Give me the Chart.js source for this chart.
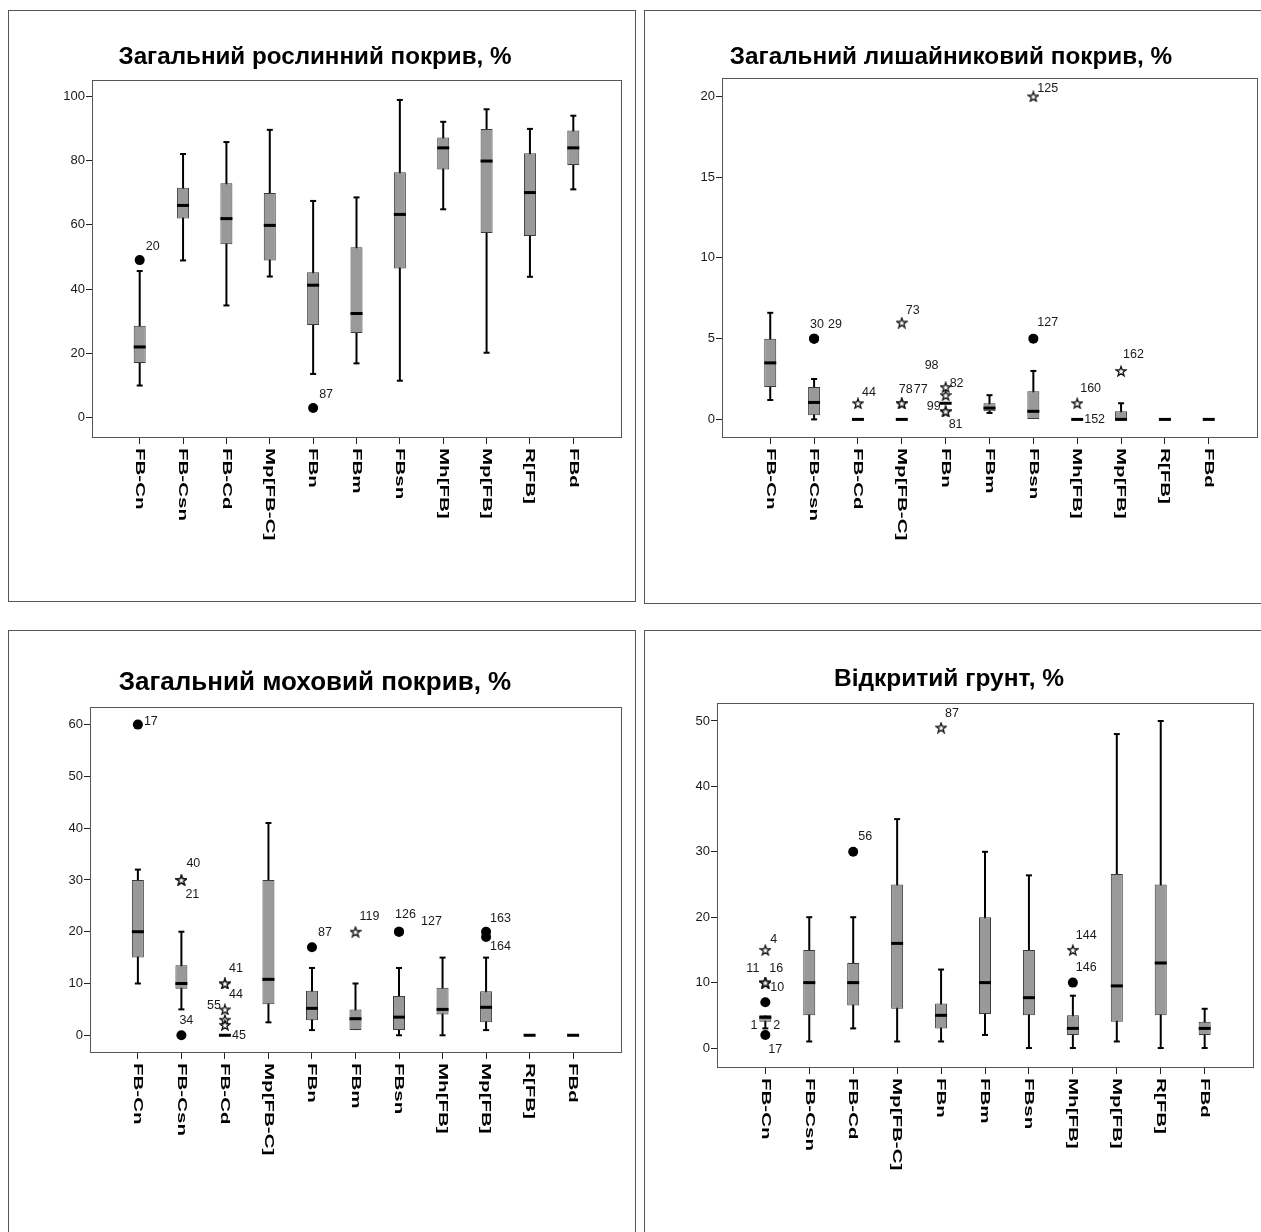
<!DOCTYPE html>
<html lang="uk">
<head>
<meta charset="UTF-8">
<title>Покриви та відкритий грунт</title>
<script src="https://cdn.jsdelivr.net/npm/chart.js"></script>
<style>
  html, body { margin: 0; padding: 0; background: #fff; }
  body { position: relative; width: 1261px; height: 1232px; overflow: hidden; }
  .panel { position: absolute; box-sizing: border-box; border: 1px solid #555; background: #fff; }
  .panel canvas { position: absolute; left: 0; top: 0; }
</style>
</head>
<body>
<div class="panel" id="p0"><canvas id="c0"></canvas></div>
<div class="panel" id="p1"><canvas id="c1"></canvas></div>
<div class="panel" id="p2"><canvas id="c2"></canvas></div>
<div class="panel" id="p3"><canvas id="c3"></canvas></div>
<script>
const categories = ['FB-Cn', 'FB-Csn', 'FB-Cd', 'Mp[FB-C]', 'FBn', 'FBm', 'FBsn', 'Mh[FB]', 'Mp[FB]', 'R[FB]', 'FBd'];

// --- Загальний рослинний покрив
const vegTitle  = 'Загальний рослинний покрив, %';
const vegTicks  = [0, 20, 40, 60, 80, 100];
const vegLow    = [10.0, 48.9, 34.9, 43.9, 13.6, 16.9, 11.5, 64.8, 20.2, 43.8, 71.0];
const vegQ1     = [17.0, 61.9, 53.9, 48.9, 28.8, 26.3, 46.4, 77.2, 57.4, 56.5, 78.6];
const vegMedian = [22.0, 66.0, 61.9, 59.8, 41.2, 32.4, 63.2, 83.9, 79.8, 70.0, 83.9];
const vegQ3     = [28.6, 71.5, 72.9, 69.9, 45.2, 53.0, 76.3, 87.1, 89.8, 82.2, 89.3];
const vegHigh   = [45.6, 82.0, 85.7, 89.5, 67.4, 68.5, 98.8, 92.0, 95.9, 89.8, 93.9];
const vegOutCat  = [0, 4];
const vegOutVal  = [49, 3];
const vegOutKind = ['o', 'o'];
const vegOutId   = ['20', '87'];

// --- Загальний лишайниковий покрив
const lichenTitle  = 'Загальний лишайниковий покрив, %';
const lichenTicks  = [0, 5, 10, 15, 20];
const lichenLow    = [1.2, 0, 0, 0, 1, 0.4, 0, 0, 0, 0, 0];
const lichenQ1     = [2.0, 0.25, 0, 0, 1, 0.5, 0, 0, 0, 0, 0];
const lichenMedian = [3.5, 1.05, 0, 0, 1, 0.7, 0.5, 0, 0, 0, 0];
const lichenQ3     = [5.0, 2.0, 0, 0, 1, 1.0, 1.75, 0, 0.5, 0, 0];
const lichenHigh   = [6.6, 2.5, 0, 0, 1, 1.5, 3.0, 0, 1.0, 0, 0];
const lichenOutCat  = [1, 1, 2, 3, 3, 3, 4, 4, 4, 4, 6, 6, 7, 7, 8];
const lichenOutVal  = [5, 5, 1, 6, 1, 1, 2, 1.5, 0.5, 0.5, 20, 5, 1, 0, 3];
const lichenOutKind = ['o', 'o', '*', '*', '*', '*', '*', '*', '*', '*', '*', 'o', '*', '-', '*'];
const lichenOutId   = ['30', '29', '44', '73', '78', '77', '82', '98', '99', '81', '125', '127', '160', '152', '162'];

// --- Загальний моховий покрив
const mossTitle  = 'Загальний моховий покрив, %';
const mossTicks  = [0, 10, 20, 30, 40, 50, 60];
const mossLow    = [10, 5, 0, 2.5, 1.0, 1.0, 0, 0, 1.0, 0, 0];
const mossQ1     = [15, 9, 0, 6.0, 2.9, 1.0, 1.0, 4.0, 2.5, 0, 0];
const mossMedian = [20, 10, 0, 10.8, 5.2, 3.2, 3.5, 5.0, 5.4, 0, 0];
const mossQ3     = [30, 13.5, 0, 30, 8.6, 5.0, 7.6, 9.2, 8.5, 0, 0];
const mossHigh   = [32, 20, 0, 41, 13, 10, 13, 15, 15, 0, 0];
const mossOutCat  = [0, 1, 1, 1, 2, 2, 2, 2, 2, 2, 4, 5, 6, 6, 8, 8];
const mossOutVal  = [60, 30, 30, 0, 10, 10, 5, 3, 2, 0, 17, 20, 20, 20, 20, 19];
const mossOutKind = ['o', '*', '*', 'o', '*', '*', '*', '*', '*', '-', 'o', '*', 'o', 'o', 'o', 'o'];
const mossOutId   = ['17', '40', '21', '34', '41', '44', '55', '', '', '45', '87', '119', '126', '127', '163', '164'];

// --- Відкритий грунт
const soilTitle  = 'Відкритий грунт, %';
const soilTicks  = [0, 10, 20, 30, 40, 50];
const soilLow    = [3, 1, 3, 1, 1, 2, 0, 0, 1, 0, 0];
const soilQ1     = [4, 5, 6.5, 6, 3, 5.2, 5, 2, 4, 5, 2];
const soilMedian = [4.7, 10, 10, 16, 5, 10, 7.7, 3, 9.5, 13, 3];
const soilQ3     = [5, 15, 13, 25, 6.8, 20, 15, 5, 26.6, 25, 4];
const soilHigh   = [5, 20, 20, 35, 12, 30, 26.4, 8, 48, 50, 6];
const soilOutCat  = [0, 0, 0, 0, 0, 0, 0, 0, 2, 4, 7, 7];
const soilOutVal  = [15, 10, 10, 10, 7, 3.5, 3.5, 2, 30, 49, 15, 10];
const soilOutKind = ['*', '*', '*', '*', 'o', '-', '-', 'o', 'o', '*', '*', 'o'];
const soilOutId   = ['4', '11', '16', '10', '', '1', '2', '17', '56', '87', '144', '146'];

// label placement next to each outlier: [dx, dy, align]
const vegIdPlace    = [[6, -14], [6, -14]];
const lichenIdPlace = [[-4, -14], [14, -14], [4, -11], [4, -12], [-3, -14], [12, -14], [4, -4], [-21, -30],
                       [-5, -5, 'right'], [3, 13], [4, -8], [4, -16], [3, -15], [7, 0], [2, -16]];
const mossIdPlace   = [[6, -3], [5, -16], [4, 15], [-2, -15], [4, -15], [4, 11], [-4, -4, 'right'], [0, 0], [0, 0],
                       [7, 0], [6, -15], [4, -15], [-4, -17], [22, -10], [4, -13], [4, 10]];
const soilIdPlace   = [[5, -10], [-6, -14, 'right'], [4, -14], [5, 5], [0, 0], [-8, 0, 'right'], [8, 0],
                       [3, 15], [5, -15], [4, -14], [3, -14], [3, -15]];

// panel frames: outer box [left, top, width, height], plot area [left, right, top, bottom]
const layouts = [
  { box: [8, 10, 628, 592],    area: [92, 621, 80, 437],    titleY: 57,  titleSize: 24.2, yMin: -6,    yMax: 105 },
  { box: [644, 10, 624, 594],  area: [722, 1257, 78, 437],  titleY: 57,  titleSize: 24.3, yMin: -1.09, yMax: 21.14 },
  { box: [8, 630, 628, 620],   area: [90, 621, 707, 1052],  titleY: 683, titleSize: 26,   yMin: -3.23, yMax: 63.4 },
  { box: [644, 630, 624, 620], area: [717, 1253, 703, 1067], titleY: 679, titleSize: 24.5, yMin: -2.9,  yMax: 52.75 },
];

const FONT = "'Liberation Sans', Arial, sans-serif";
const xMin = -1.1, xMax = 11.1;

function makeStar(size) {
  const c = document.createElement('canvas');
  c.width = c.height = size;
  const g = c.getContext('2d');
  const r = size / 2 - 0.8, ri = r * 0.4, cx = size / 2, cy = size / 2 + 0.6;
  g.beginPath();
  for (let k = 0; k < 10; k++) {
    const rr = k % 2 ? ri : r;
    const a = -Math.PI / 2 + k * Math.PI / 5;
    g.lineTo(cx + rr * Math.cos(a), cy + rr * Math.sin(a));
  }
  g.closePath();
  g.fillStyle = '#fff';
  g.fill();
  g.strokeStyle = '#111';
  g.lineWidth = 1.3;
  g.stroke();
  return c;
}
const starImg = makeStar(12);

function drawPanel(n, title, ticks, low, q1, med, q3, high, outCat, outVal, outKind, outId, idPlace) {
  const L = layouts[n];
  const [left, top, w, h] = L.box;
  const panel = document.getElementById('p' + n);
  panel.style.left = left + 'px';
  panel.style.top = top + 'px';
  panel.style.width = w + 'px';
  panel.style.height = h + 'px';

  const cw = w - 2, ch = h - 2, ox = left + 1, oy = top + 1;
  const aL = L.area[0] - ox, aR = L.area[1] - ox, aT = L.area[2] - oy, aB = L.area[3] - oy;
  const canvas = document.getElementById('c' + n);
  canvas.width = cw;
  canvas.height = ch;

  const spacing = (aR - aL) / (xMax - xMin);
  const titleSize = L.titleSize;
  const tY = L.titleY - oy;

  const idx = categories.map((_, i) => i);
  const caps = [];
  idx.forEach(i => {
    if (high[i] > q3[i]) caps.push({ x: i, y: high[i] });
    if (low[i] < q1[i]) caps.push({ x: i, y: low[i] });
  });
  const pts = kind => outCat.map((c, k) => ({ x: c, y: outVal[k], k })).filter(p => outKind[p.k] === kind);

  // outlier case numbers
  const idLabels = {
    id: 'idLabels',
    afterDatasetsDraw(chart) {
      const { ctx, scales: { x, y } } = chart;
      ctx.save();
      ctx.font = '12.5px ' + FONT;
      ctx.fillStyle = '#1a1a1a';
      ctx.textBaseline = 'middle';
      outId.forEach((t, k) => {
        if (!t) return;
        const [dx, dy, align] = idPlace[k];
        ctx.textAlign = align || 'left';
        ctx.fillText(t, x.getPixelForValue(outCat[k]) + dx, y.getPixelForValue(outVal[k]) + dy);
      });
      ctx.restore();
    }
  };

  // plot frame and the vertical category names under the axis
  const frameAndNames = {
    id: 'frameAndNames',
    beforeDatasetsDraw(chart) {
      const { ctx, chartArea: a } = chart;
      ctx.save();
      ctx.strokeStyle = '#555';
      ctx.lineWidth = 1;
      ctx.strokeRect(Math.round(a.left) + 0.5, Math.round(a.top) + 0.5,
                     Math.round(a.right - a.left), Math.round(a.bottom - a.top));
      ctx.restore();
    },
    afterDraw(chart) {
      const { ctx, chartArea: a, scales: { x } } = chart;
      ctx.save();
      ctx.font = 'bold 13.5px ' + FONT;
      ctx.fillStyle = '#000';
      ctx.textAlign = 'left';
      ctx.textBaseline = 'middle';
      categories.forEach((c, i) => {
        ctx.save();
        ctx.translate(x.getPixelForValue(i), a.bottom + 11);
        ctx.rotate(Math.PI / 2);
        ctx.scale(1.52, 1);
        ctx.fillText(c, 0, 0);
        ctx.restore();
      });
      ctx.restore();
    }
  };

  return new Chart(canvas, {
    type: 'bar',
    data: {
      datasets: [
        {
          type: 'bar', order: 4, grouped: false,
          data: idx.map(i => ({ x: i, y: [low[i], high[i]] })),
          backgroundColor: '#000', borderWidth: 0,
          barPercentage: 2 / spacing, categoryPercentage: 1
        },
        {
          type: 'bar', order: 3, grouped: false,
          data: idx.map(i => ({ x: i, y: [q1[i], q3[i]] })),
          backgroundColor: '#999', borderColor: '#3a3a3a', borderWidth: 1, borderSkipped: false,
          barPercentage: 12 / spacing, categoryPercentage: 1
        },
        {
          type: 'scatter', order: 2, data: caps,
          pointStyle: 'line', pointRadius: 3, pointBorderWidth: 2, pointBorderColor: '#000'
        },
        {
          type: 'scatter', order: 1, data: idx.map(i => ({ x: i, y: med[i] })),
          pointStyle: 'line', pointRadius: 6, pointBorderWidth: 3, pointBorderColor: '#000'
        },
        {
          type: 'scatter', order: 0, data: pts('o'),
          pointStyle: 'circle', pointRadius: 5, pointBackgroundColor: '#000', pointBorderWidth: 0
        },
        {
          type: 'scatter', order: 0, data: pts('*'),
          pointStyle: starImg, pointRadius: 6
        }
      ]
    },
    options: {
      responsive: false,
      animation: false,
      events: [],
      layout: { padding: { left: 0, right: cw - aR, top: 0, bottom: 0 } },
      plugins: {
        legend: { display: false },
        tooltip: { enabled: false },
        title: {
          display: true,
          text: title,
          color: '#000',
          font: { family: FONT, size: titleSize, weight: 'bold', lineHeight: 1.2 },
          padding: { top: tY - titleSize * 0.6, bottom: aT - tY - titleSize * 0.6 }
        }
      },
      scales: {
        x: {
          type: 'linear', min: xMin, max: xMax, offset: false,
          afterBuildTicks: s => { s.ticks = idx.map(i => ({ value: i })); },
          afterFit: s => { s.height = ch - aB; },
          ticks: { display: false },
          grid: { display: true, offset: false, drawOnChartArea: false, drawTicks: true, tickLength: 7, color: '#222' },
          border: { display: true, color: '#222', width: 1 }
        },
        y: {
          type: 'linear', min: L.yMin, max: L.yMax, beginAtZero: false,
          afterBuildTicks: s => { s.ticks = ticks.map(v => ({ value: v })); },
          afterFit: s => { s.width = aL; },
          ticks: { font: { family: FONT, size: 13 }, color: '#1a1a1a', padding: 1 },
          grid: { display: true, drawOnChartArea: false, drawTicks: true, tickLength: 6, color: '#222' },
          border: { display: true, color: '#222', width: 1 }
        }
      }
    },
    plugins: [idLabels, frameAndNames]
  });
}

drawPanel(0, vegTitle, vegTicks, vegLow, vegQ1, vegMedian, vegQ3, vegHigh, vegOutCat, vegOutVal, vegOutKind, vegOutId, vegIdPlace);
drawPanel(1, lichenTitle, lichenTicks, lichenLow, lichenQ1, lichenMedian, lichenQ3, lichenHigh, lichenOutCat, lichenOutVal, lichenOutKind, lichenOutId, lichenIdPlace);
drawPanel(2, mossTitle, mossTicks, mossLow, mossQ1, mossMedian, mossQ3, mossHigh, mossOutCat, mossOutVal, mossOutKind, mossOutId, mossIdPlace);
drawPanel(3, soilTitle, soilTicks, soilLow, soilQ1, soilMedian, soilQ3, soilHigh, soilOutCat, soilOutVal, soilOutKind, soilOutId, soilIdPlace);
</script>
</body>
</html>
